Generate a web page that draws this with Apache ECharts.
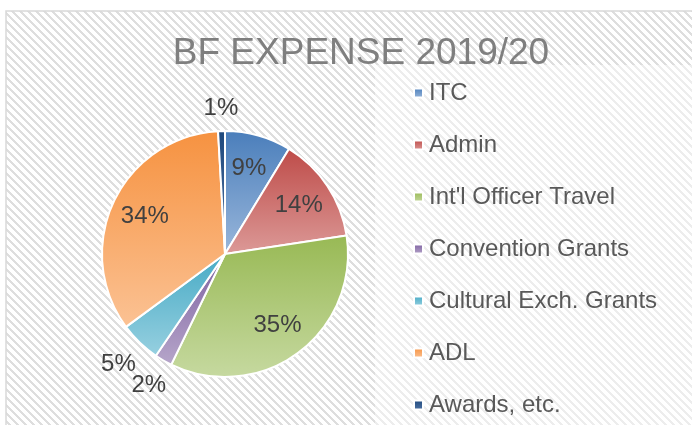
<!DOCTYPE html>
<html>
<head>
<meta charset="utf-8">
<script src="https://cdn.jsdelivr.net/npm/echarts@6/dist/echarts.min.js"></script>
<style>
  * { margin: 0; padding: 0; }
  html, body { width: 692px; height: 425px; background: #fff; overflow: hidden; }
  #main { width: 692px; height: 425px; }
</style>
</head>
<body>
<div id="main"></div>
<script>
var categories = ['ITC', 'Admin', "Int'l Officer Travel", 'Convention Grants', 'Cultural Exch. Grants', 'ADL', 'Awards, etc.'];
var values = [8.7, 13.9, 34.6, 2.3, 5.4, 34.2, 0.9];
var topColors = ['#4a7ebb', '#be4b48', '#98b954', '#7d60a0', '#46aac5', '#f69240', '#1f497d'];
var bottomColors = ['#9ab7db', '#dc9a98', '#c6d9a0', '#b6a6ca', '#97d0e0', '#fbc294', '#4f73a3'];

var cx = 225, cy = 254, radius = 123;

// striped background like the excel chart area
var stripe = document.createElement('canvas');
stripe.width = 8; stripe.height = 8;
var sctx = stripe.getContext('2d');
sctx.fillStyle = '#ffffff';
sctx.fillRect(0, 0, 8, 8);
sctx.fillStyle = '#dedede';
for (var y = 0; y < 8; y++) {
  for (var x = 0; x < 8; x++) {
    if ((x - y + 16) % 8 < 3) sctx.fillRect(x, y, 1, 1);
  }
}

var pieData = categories.map(function (name, i) {
  return {
    name: name,
    value: values[i],
    itemStyle: {
      color: new echarts.graphic.LinearGradient(0, 0, 0, 1, [
        { offset: 0, color: topColors[i] },
        { offset: 1, color: bottomColors[i] }
      ])
    }
  };
});

var myChart = echarts.init(document.getElementById('main'));

myChart.setOption({
  animation: false,
  graphic: [
    {
      type: 'rect', z: -10, silent: true,
      shape: { x: 6, y: 11, width: 720, height: 440 },
      style: { fill: { image: stripe, repeat: 'repeat' }, stroke: '#d9d9d9', lineWidth: 1.5 }
    },
    {
      type: 'rect', z: -9, silent: true,
      shape: { x: 375, y: 65, width: 340, height: 380 },
      style: { fill: 'rgba(255,255,255,0.45)' }
    }
  ],
  title: {
    text: 'BF EXPENSE 2019/20',
    left: 356,
    top: 30,
    textAlign: 'center',
    textStyle: {
      fontFamily: 'Liberation Sans, Arial',
      fontSize: 37,
      fontWeight: 'normal',
      color: '#7f7f7f'
    }
  },
  legend: {
    orient: 'vertical',
    left: 413,
    top: 81,
    padding: 0,
    itemWidth: 9,
    itemHeight: 9,
    itemGap: 28,
    icon: 'rect',
    selectedMode: false,
    textStyle: {
      fontFamily: 'Liberation Sans, Arial',
      fontSize: 24,
      lineHeight: 24,
      color: '#595959',
      padding: [0, 0, 0, 1]
    },
    data: categories
  },
  series: [
    {
      type: 'pie',
      center: [cx, cy],
      radius: radius,
      startAngle: 90,
      clockwise: true,
      itemStyle: { borderColor: '#ffffff', borderWidth: 2 },
      label: {
        show: true,
        position: 'inside',
        fontFamily: 'Liberation Sans, Arial',
        fontSize: 24,
        color: '#404040',
        formatter: function (p) { return Math.round(p.percent) + '%'; }
      },
      labelLine: { show: false },
      labelLayout: function (p) {
        var r = p.labelRect;
        var lx = r.x + r.width / 2, ly = r.y + r.height / 2;
        var d0 = Math.sqrt((lx - cx) * (lx - cx) + (ly - cy) * (ly - cy));
        var ux = (lx - cx) / d0, uy = (ly - cy) / d0;
        var target;
        if (values[p.dataIndex] < 6) {
          target = radius + 10 + Math.abs(ux) * r.width / 2 + Math.abs(uy) * r.height / 2;
        } else {
          target = radius * 0.72;
        }
        return { dx: ux * (target - d0), dy: uy * (target - d0) };
      },
      data: pieData
    }
  ]
});
</script>
</body>
</html>
